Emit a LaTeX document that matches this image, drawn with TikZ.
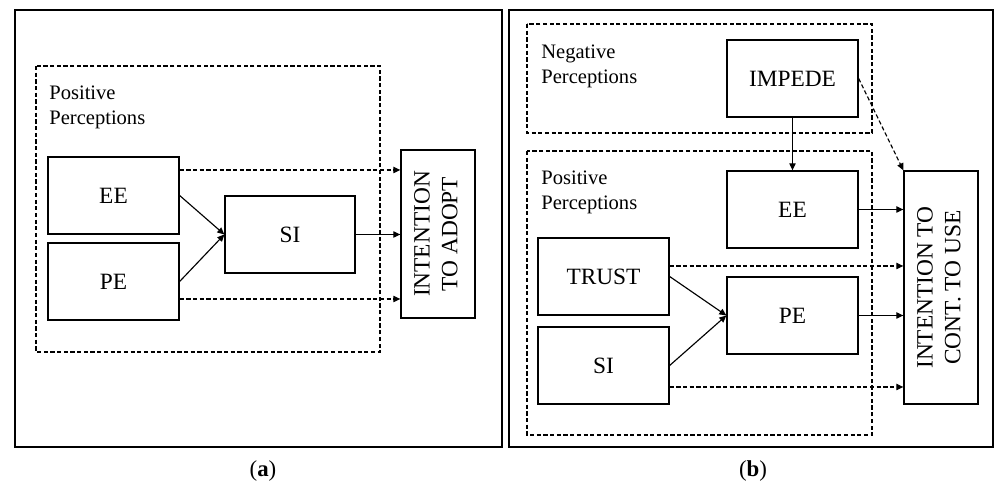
\documentclass[tikz,border=0pt]{standalone}
\usepackage{fontspec}
\setmainfont{Liberation Serif}
\usepackage{graphicx}
\usetikzlibrary{arrows.meta}
\newcommand\vtext[1]{\rotatebox{90}{\begin{tabular}{@{}c@{}}#1\end{tabular}}}

\begin{document}
\begin{tikzpicture}[x=.02cm,y=-.02cm,>={Triangle[length=4pt,width=3.6pt]},
  box/.style={draw,line width=.75pt,minimum width=2.62cm,minimum height=1.54cm,inner sep=0pt,font=\fontsize{13.3}{15.8}\selectfont},
  group/.style={line width=.65pt,dash pattern=on 2.4pt off 1.4pt},
  frame/.style={line width=.9pt},
  lbl/.style={anchor=north west,inner sep=0pt,align=left,font=\fontsize{11.7}{14.2}\selectfont},
  link/.style={->,line width=.65pt},
  dlink/.style={->,line width=.65pt,dash pattern=on 2.4pt off 1.4pt}]
\useasboundingbox (0,0) rectangle (994,492);
% (a)
\draw[frame] (15,10) rectangle (502,447);
\draw[group] (36,66) rectangle (380,352);
\node[lbl] (posA) at (49,86) {Positive\\Perceptions};
\node[box] (eeA) at (113.5,195.5) {EE};\node[box] (peA) at (113.5,281.5) {PE};
\node[box,minimum width=2.6cm] (siA) at (290,234.5) {SI};
\node[box,minimum width=1.48cm,minimum height=3.36cm] (intA) at (438,234) {\vtext{INTENTION\\TO ADOPT}};
\draw[dlink] (eeA.east |- 0,170)--(intA.west |- 0,170);
\draw[dlink] (peA.east |- 0,299)--(intA.west |- 0,299);
\draw[link] (eeA.east)--(siA.west);\draw[link] (peA.east)--(siA.west);
\draw[link] (siA.east)--(siA.east -| intA.west);
\node[font=\fontsize{13}{15}\selectfont] (capA) at (263,471) {(\textbf{a})};
% (b)
\draw[frame] (509,10) rectangle (993,447);
\draw[group] (527,24) rectangle (872,133);\draw[group] (527,151) rectangle (872,435);
\node[lbl] (negB) at (541,45) {Negative\\Perceptions};
\node[lbl] (posB) at (541,171) {Positive\\Perceptions};
\node[box] (impB) at (792.5,78.5) {IMPEDE};
\node[box] (eeB) at (792.5,209.5) {EE};\node[box] (peB) at (792.5,315.5) {PE};
\node[box] (trustB) at (603.5,276.5) {TRUST};\node[box] (siB) at (603.5,365.5) {SI};
\node[box,minimum width=1.48cm,minimum height=4.66cm] (intB) at (941,287.5) {\vtext{INTENTION TO\\CONT. TO USE}};
\draw[link] (impB.south)--(eeB.north);
\draw[dlink] (impB.east)--(intB.north west);
\draw[link] (eeB.east)--(eeB.east -| intB.west);\draw[link] (peB.east)--(peB.east -| intB.west);
\draw[dlink] (trustB.east |- 0,266)--(intB.west |- 0,266);
\draw[dlink] (siB.east |- 0,387)--(intB.west |- 0,387);
\draw[link] (trustB.east)--(peB.west);\draw[link] (siB.east)--(peB.west);
\node[font=\fontsize{13}{15}\selectfont] (capB) at (753,471) {(\textbf{b})};
\end{tikzpicture}
\end{document}
